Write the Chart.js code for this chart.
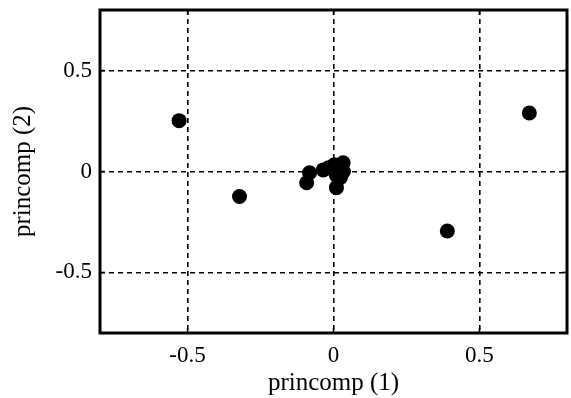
<!DOCTYPE html>
<html>
<head>
<meta charset="utf-8">
<script src="https://cdn.jsdelivr.net/npm/chart.js@4/dist/chart.umd.min.js"></script>
<style>
html,body{margin:0;padding:0;background:#fff;}
#wrap{width:571px;height:398px;}
</style>
</head>
<body>
<div id="wrap"><canvas id="c" width="571" height="398"></canvas></div>
<script>
const xValues = [-0.529, -0.322, 0.671, 0.39, 0.033, 0.003, 0.017, 0.034, 0.01, -0.035, -0.017, 0.024, -0.082, -0.092, 0.01];
const yValues = [0.252, -0.124, 0.29, -0.295, 0.043, 0.033, 0.018, 0.0, -0.02, 0.008, 0.018, -0.03, -0.006, -0.056, -0.08];
const tickValues = [-0.5, 0, 0.5];
const xTitle = 'princomp (1)';
const yTitle = 'princomp (2)';

const points = xValues.map((x, i) => ({x: x, y: yValues[i]}));

const boxPlugin = {
  id: 'box',
  afterDraw(chart) {
    const {ctx, chartArea: a} = chart;
    ctx.save();
    ctx.strokeStyle = '#000';
    ctx.lineWidth = 3;
    ctx.strokeRect(a.left, a.top, a.right - a.left, a.bottom - a.top);
    ctx.lineWidth = 1.5;
    const xs = chart.scales.x, ys = chart.scales.y;
    tickValues.forEach(v => {
      const px = xs.getPixelForValue(v);
      ctx.beginPath(); ctx.moveTo(px, a.bottom); ctx.lineTo(px, a.bottom - 5); ctx.stroke();
      ctx.beginPath(); ctx.moveTo(px, a.top); ctx.lineTo(px, a.top + 5); ctx.stroke();
      const py = ys.getPixelForValue(v);
      ctx.beginPath(); ctx.moveTo(a.left, py); ctx.lineTo(a.left + 5, py); ctx.stroke();
      ctx.beginPath(); ctx.moveTo(a.right, py); ctx.lineTo(a.right - 5, py); ctx.stroke();
    });
    ctx.restore();
  }
};
const bgPlugin = {
  id: 'bg',
  beforeDraw(chart) {
    const ctx = chart.ctx;
    ctx.save(); ctx.fillStyle = '#fff'; ctx.fillRect(0, 0, chart.width, chart.height); ctx.restore();
  }
};

const fontFam = '"Liberation Serif", "Times New Roman", serif';
const FS = 23;
const TFS = 25;

function zeroPad(s) { s.paddingTop = 0; s.paddingBottom = 0; s.paddingLeft = 0; s.paddingRight = 0; }

new Chart(document.getElementById('c'), {
  type: 'scatter',
  data: {
    datasets: [{
      data: points,
      backgroundColor: '#000',
      borderColor: '#000',
      pointRadius: 7.5,
      pointHoverRadius: 7.5,
      borderWidth: 0
    }]
  },
  options: {
    responsive: false,
    animation: false,
    events: [],
    layout: {autoPadding: false, padding: {top: 10, right: 4, left: 0, bottom: 0}},
    plugins: {legend: {display: false}, tooltip: {enabled: false}},
    scales: {
      x: {
        type: 'linear',
        min: -0.8, max: 0.8,
        afterBuildTicks(s) { s.ticks = tickValues.map(v => ({value: v})); },
        afterFit(s) { s.height = 65; zeroPad(s); },
        ticks: {
          color: '#000',
          font: {family: fontFam, size: FS},
          padding: 9,
          maxRotation: 0,
          callback: v => String(v)
        },
        grid: {color: '#000', lineWidth: 1.6, drawTicks: false},
        border: {display: false, dash: [5, 4]},
        title: {display: true, text: xTitle, color: '#000', font: {family: fontFam, size: TFS}, padding: {top: 0, bottom: 0}}
      },
      y: {
        type: 'linear',
        min: -0.8, max: 0.8,
        afterBuildTicks(s) { s.ticks = tickValues.map(v => ({value: v})); },
        afterFit(s) { s.width = 100; zeroPad(s); },
        ticks: {
          color: '#000',
          font: {family: fontFam, size: FS},
          padding: 8,
          callback: v => String(v)
        },
        grid: {color: '#000', lineWidth: 1.6, drawTicks: false},
        border: {display: false, dash: [5, 4]},
        title: {display: true, text: yTitle, color: '#000', font: {family: fontFam, size: TFS}, padding: {top: 8, bottom: 0}}
      }
    }
  },
  plugins: [bgPlugin, boxPlugin]
});
</script>
</body>
</html>
